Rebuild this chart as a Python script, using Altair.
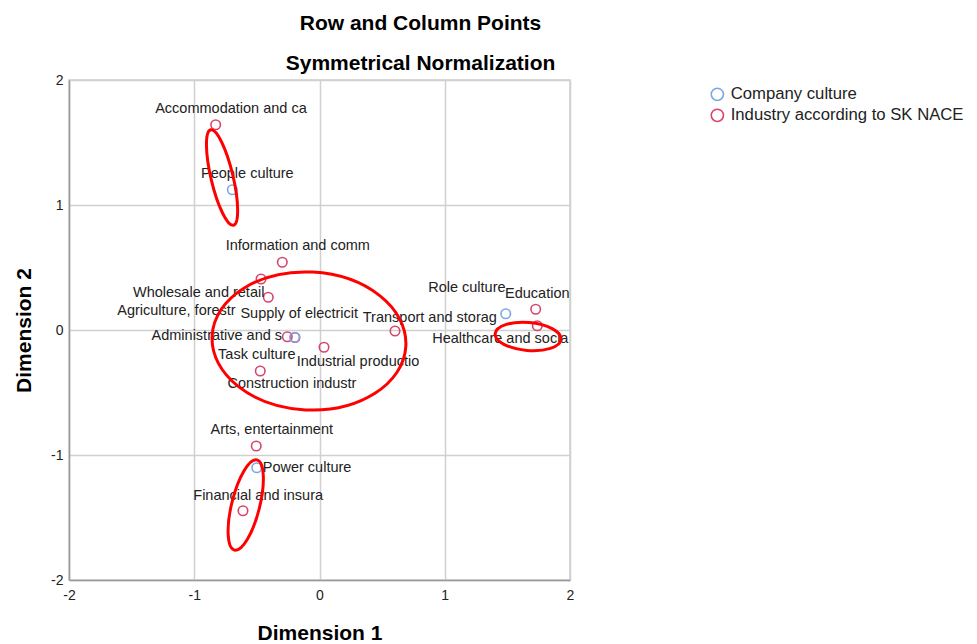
import altair as alt
import pandas as pd

# ---- data ----
row_labels = ["People culture", "Role culture", "Task culture", "Power culture"]
row_dim1 = [-0.696, 1.487, -0.198, -0.501]
row_dim2 = [1.122, 0.130, -0.058, -1.102]

col_labels = ["Accommodation and ca", "Information and comm", "Wholesale and retail",
              "Agriculture, forestr", "Supply of electricit", "Administrative and s",
              "Transport and storag", "Industrial productio", "Construction industr",
              "Education", "Healthcare and socia", "Arts, entertainment",
              "Financial and insura"]
col_dim1 = [-0.829, -0.297, -0.467, -0.409, -0.196, -0.257, 0.603, 0.036, -0.473,
            1.726, 1.739, -0.505, -0.611]
col_dim2 = [1.642, 0.542, 0.408, 0.262, -0.060, -0.054, -0.008, -0.138, -0.328,
            0.166, 0.034, -0.928, -1.446]

groups = ["Company culture", "Industry according to SK NACE"]
tick_values = [-2, -1, 0, 1, 2]

# hand-drawn highlight ellipses (centres in data units)
ell_dim1 = [-0.778, -0.084, 1.665, -0.589]
ell_dim2 = [1.22, -0.088, -0.052, -1.40]

# ---- styles ----
BLUE = "#7BA7E9"
RED = "#D6466C"
FONT = "Liberation Sans"
# (rx px, ry px, angle deg) for each ellipse
ell_style = [(49, 11, 76.6), (97, 69, 3), (33, 14, 5), (46.5, 14, 104)]
# label centre offsets (px) relative to its point
label_offsets = {
    "Accommodation and ca": (15.3, -15.4),
    "People culture": (15, -15.7),
    "Information and comm": (15.5, -16.3),
    "Wholesale and retail": (-62.3, 14),
    "Agriculture, forestr": (-91.8, 13.7),
    "Supply of electricit": (4.3, -23.5),
    "Administrative and s": (-70.5, -0.7),
    "Task culture": (-37.9, 17.7),
    "Industrial productio": (34, 14.7),
    "Construction industr": (31.7, 13),
    "Transport and storag": (34.8, -13.3),
    "Role culture": (-38.9, -25.4),
    "Education": (1.6, -15.3),
    "Healthcare and socia": (-37, 13.6),
    "Arts, entertainment": (15.5, -16),
    "Power culture": (50.3, 0.3),
    "Financial and insura": (15.2, -14.7),
}

df = pd.concat([
    pd.DataFrame({"label": col_labels, "d1": col_dim1, "d2": col_dim2, "group": groups[1]}),
    pd.DataFrame({"label": row_labels, "d1": row_dim1, "d2": row_dim2, "group": groups[0]}),
], ignore_index=True)

xs = alt.Scale(domain=[-2, 2], nice=False, zero=False)
ys = alt.Scale(domain=[-2, 2], nice=False, zero=False)

X = alt.X("d1:Q", scale=xs, title="Dimension 1",
          axis=alt.Axis(values=tick_values, grid=True, ticks=False, labelPadding=8,
                        labelFlush=False, labelExpr="'' + datum.value", titlePadding=20))
Y = alt.Y("d2:Q", scale=ys, title="Dimension 2",
          axis=alt.Axis(values=tick_values, grid=True, ticks=False, labelPadding=6,
                        labelFlush=False, labelExpr="'' + datum.value", titlePadding=16))

base = alt.Chart(df)

points = base.mark_point(filled=False, size=90, strokeWidth=1.6, opacity=1).encode(
    x=X, y=Y,
    color=alt.Color("group:N", scale=alt.Scale(domain=groups, range=[BLUE, RED]),
                    legend=alt.Legend(title=None, orient="none", legendX=640, legendY=6,
                                      symbolType="circle", symbolSize=150,
                                      symbolStrokeWidth=1.6, symbolFillColor="transparent",
                                      labelFontSize=16.7, labelFont=FONT, labelColor="#222",
                                      labelLimit=400,
                                      rowPadding=2, labelOffset=5, padding=0)),
)

texts = []
for name, (dx, dy) in label_offsets.items():
    texts.append(
        base.transform_filter(alt.datum.label == name)
        .mark_text(dx=dx, dy=dy, align="center", baseline="middle", fontSize=14.5,
                   font=FONT, color="#222")
        .encode(x="d1:Q", y="d2:Q", text="label:N")
    )

ell_df = pd.DataFrame({"d1": ell_dim1, "d2": ell_dim2})
ellipses = []
for i, (rx, ry, ang) in enumerate(ell_style):
    r = ry / rx
    path = f"M -1 0 A 1 {r:.4f} 0 1 1 1 0 A 1 {r:.4f} 0 1 1 -1 0 Z"
    ellipses.append(
        alt.Chart(ell_df.iloc[[i]])
        .mark_point(shape=path, size=(2 * rx) ** 2, angle=ang, filled=False,
                    stroke="#FF0000", strokeWidth=3, opacity=1)
        .encode(x="d1:Q", y="d2:Q")
    )

chart = alt.layer(points, *texts, *ellipses).properties(
    width=501, height=500,
    padding={"left": 5, "top": 5, "right": 5, "bottom": 2},
    title=alt.TitleParams(text="Row and Column Points",
                          subtitle="Symmetrical Normalization",
                          fontSize=21, subtitleFontSize=21, font=FONT, subtitleFont=FONT,
                          fontWeight="bold", subtitleFontWeight="bold",
                          color="#000", subtitleColor="#000",
                          anchor="middle", dx=101, subtitlePadding=19, offset=-1),
).configure_axis(
    labelFont=FONT, labelFontSize=14, labelColor="#222",
    titleFont=FONT, titleFontSize=21, titleFontWeight="bold", titleColor="#000",
    gridColor="#D0D0D0", gridWidth=1.5, domainColor="#9A9A9A", domainWidth=1.5,
).configure_view(stroke="#D0D0D0", strokeWidth=1.5)

chart.save("out.html", embed_options={"renderer": "svg", "actions": False})
